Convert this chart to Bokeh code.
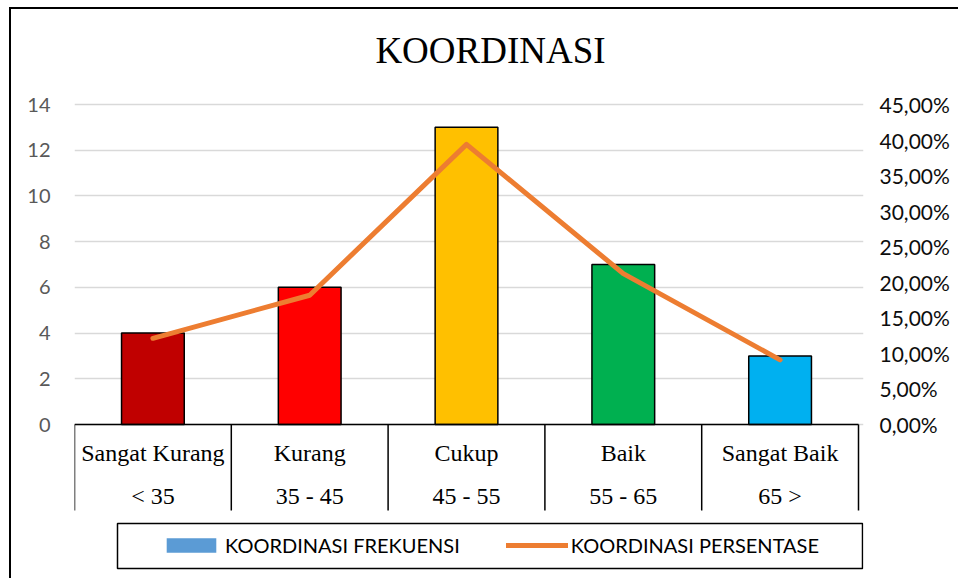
from bokeh.plotting import figure
from bokeh.models import (Range1d, LinearAxis, FixedTicker, Legend, LegendItem,
                          ColumnDataSource)
from bokeh.embed import file_html
from bokeh.resources import INLINE
from bokeh.core.properties import value
import numpy as np

# ---------------- data ----------------
title_text = "KOORDINASI"
categories = ["Sangat Kurang", "Kurang", "Cukup", "Baik", "Sangat Baik"]
score_ranges = ["< 35", "35 - 45", "45 - 55", "55 - 65", "65 >"]
frekuensi = [4, 6, 13, 7, 3]
persentase = [12.12, 18.18, 39.39, 21.21, 9.09]
bar_colors = ["#C00000", "#FF0000", "#FFC000", "#00B050", "#00B0F0"]
left_ticks = [0, 2, 4, 6, 8, 10, 12, 14]
right_ticks = [0, 5, 10, 15, 20, 25, 30, 35, 40, 45]
right_labels = ["0,00%", "5,00%", "10,00%", "15,00%", "20,00%", "25,00%",
                "30,00%", "35,00%", "40,00%", "45,00%"]

# ---------------- layout (pixels) ----------------
W, H = 949, 571
FL, FR, FT, FB = 63, 852, 0, 571           # frame edges on the canvas
ZERO = 415                                  # canvas y of the value 0
PLOT_W = 784                                # width of the category area
PLOT_H = 320                                # height of 0..14
ppx = PLOT_W / 5.0
ppy = PLOT_H / 14.0
y_end = (ZERO - FT) / ppy
y_start = -(FB - ZERO) / ppy
x_end = (FR - FL) / ppx


def ypix(dy):
    """pixels below the zero line -> data units"""
    return -dy / ppy


p = figure(width=W, height=H, output_backend="svg", toolbar_location=None,
           x_range=Range1d(0, x_end), y_range=Range1d(y_start, y_end),
           x_axis_location=None, min_border_left=FL, min_border_right=W - FR,
           min_border_top=FT, min_border_bottom=H - FB)
p.styles = {"border-left": "2px solid #000", "border-top": "2px solid #000",
            "margin-left": "9px", "margin-top": "7px"}
p.outline_line_color = None
p.background_fill_color = "white"
p.border_fill_color = "white"

# left axis
lax = p.left[0]
lax.ticker = FixedTicker(ticks=left_ticks)
lax.axis_line_color = None
lax.major_tick_line_color = None
lax.minor_tick_line_color = None
lax.major_label_standoff = 18
lax.major_label_text_font = "Lato"
lax.major_label_text_font_size = "20px"
lax.major_label_text_color = "#595959"

p.xgrid.visible = False
p.ygrid.ticker = FixedTicker(ticks=left_ticks)
p.ygrid.grid_line_color = "#D9D9D9"
p.ygrid.grid_line_width = 1.3

# right axis
p.extra_y_ranges = {"pct": Range1d(start=y_start * 45 / 14, end=y_end * 45 / 14)}
rax = LinearAxis(y_range_name="pct", ticker=FixedTicker(ticks=right_ticks),
                 major_label_overrides={t: l for t, l in zip(right_ticks, right_labels)})
rax.axis_line_color = None
rax.major_tick_line_color = None
rax.minor_tick_line_color = None
rax.major_label_standoff = 10
rax.major_label_text_font = "Lato"
rax.major_label_text_font_size = "21px"
rax.major_label_text_color = "#0d0d0d"
p.add_layout(rax, "right")

# title (inside the frame, above the value 14)
p.text(x=[416 / ppx], y=[14 + 54 / ppy], text=[title_text], text_align="center",
       text_baseline="alphabetic", text_font=value("Liberation Serif"),
       text_font_size="37px", text_color="black")

# bars
xs = np.arange(len(categories)) + 0.5
src = ColumnDataSource(dict(x=xs, top=frekuensi, color=bar_colors,
                            cat=categories, rng=score_ranges,
                            pct=persentase))
p.vbar(x="x", top="top", width=0.4, fill_color="color", line_color="black",
       line_width=1.5, source=src)

# line
line_r = p.line(x="x", y="pct", y_range_name="pct", source=src,
                line_color="#ED7D31", line_width=5, line_cap="round",
                line_join="round")

# category table
bounds = np.arange(len(categories) + 1)
p.segment(x0=bounds, y0=0, x1=bounds, y1=ypix(86), line_color="black",
          line_width=1.5)
p.segment(x0=[bounds[0]], y0=[0], x1=[bounds[-1]], y1=[0], line_color="black",
          line_width=1.5)
p.text(x="x", y=ypix(28), text="cat", source=src, text_align="center",
       text_baseline="alphabetic", text_font=value("Liberation Serif"),
       text_font_size="24px", text_color="black")
p.text(x="x", y=ypix(71), text="rng", source=src, text_align="center",
       text_baseline="alphabetic", text_font=value("Liberation Serif"),
       text_font_size="24px", text_color="black")

# legend box
p.quad(left=[43 / ppx], right=[788 / ppx], top=[ypix(99)], bottom=[ypix(144)],
       fill_color=None, line_color="black", line_width=1.5)

# proxy renderer (hidden) that gives the legend its blue series swatch
leg_proxy = p.vbar(x="x", top="top", width=0.4, fill_color="#5B9BD5",
                   line_color=None, source=src, visible=False)
legend = Legend(items=[LegendItem(label="KOORDINASI FREKUENSI", renderers=[leg_proxy]),
                       LegendItem(label="KOORDINASI PERSENTASE", renderers=[line_r])],
                orientation="horizontal", location=(86, 23), padding=0,
                spacing=46, glyph_width=62, glyph_height=18, label_standoff=3,
                label_text_font="Lato", label_text_font_size="20px",
                label_text_color="black", border_line_alpha=0,
                background_fill_alpha=0)
p.add_layout(legend)

open("out.html", "w").write(file_html(p, INLINE))
